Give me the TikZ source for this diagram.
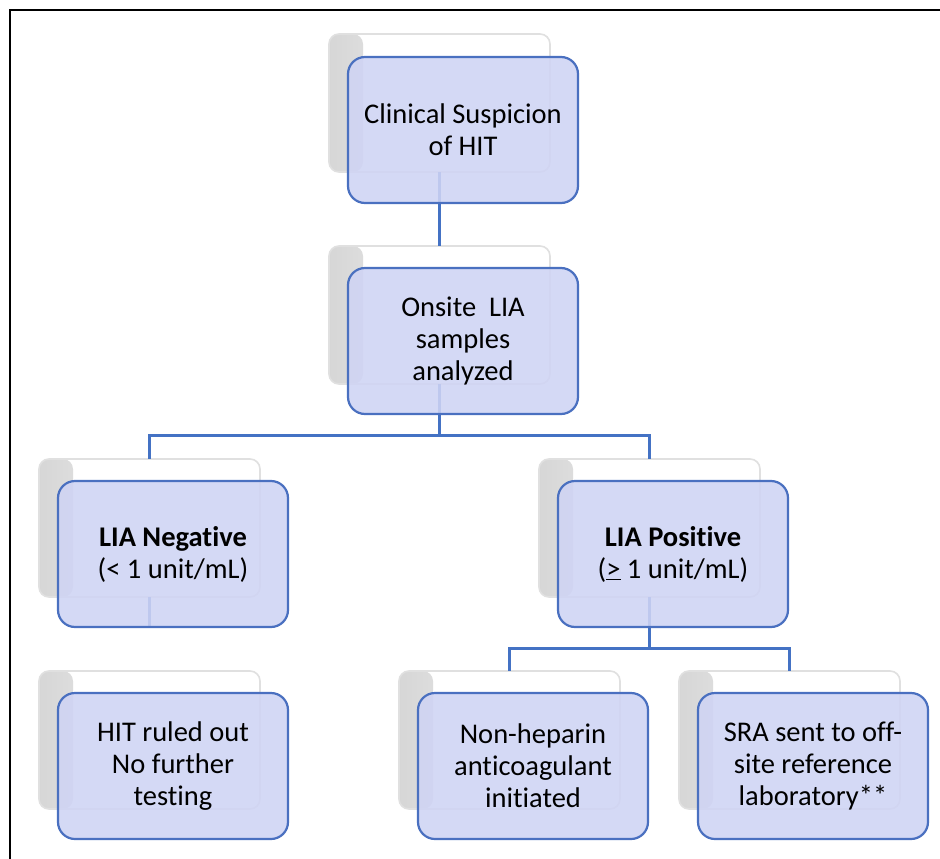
\documentclass[tikz,border=0pt]{standalone}
\usepackage{fontspec}
\setmainfont[Ligatures={NoCommon}]{Carlito}
\usetikzlibrary{calc}
\definecolor{lnblue}{HTML}{4472C4}
\definecolor{frontfill}{HTML}{CFD4F4}
\definecolor{frontdraw}{HTML}{4A70C0}
\tikzset{
  backbox/.style={anchor=north west, minimum width=221pt, minimum height=138pt,
    rounded corners=10pt, draw=black!12, line width=1.6pt, fill=white,
    path picture={\shade[left color=black!16, right color=white]
      (path picture bounding box.south west) rectangle
      ([xshift=34pt]path picture bounding box.north west);},
    inner sep=0pt, outer sep=0pt},
  frontbox/.style={anchor=north west, minimum width=230pt, minimum height=146pt,
    rounded corners=17pt, draw=frontdraw, line width=2.2pt, fill=frontfill,
    fill opacity=0.88, text opacity=1, align=center,
    font=\fontsize{28.5}{32}\selectfont, inner sep=0pt, outer sep=0pt},
  conn/.style={draw=lnblue, line width=3pt},
  frame/.style={draw=black, line width=2.5pt},
}
\begin{document}
\begin{tikzpicture}[x=1pt,y=-1pt]
\useasboundingbox[fill=white] (0,0) rectangle (940,859);
\draw[frame] (10,859) -- (10,10) -- (940,10);
% back cards
\node[backbox] (b1) at (329,34) {};
\node[backbox] (b2) at (329,246) {};
\node[backbox] (b3) at (39,459) {};
\node[backbox] (b4) at (539,459) {};
\node[backbox] (b5) at (39,671) {};
\node[backbox] (b6) at (399,671) {};
\node[backbox] (b7) at (679,671) {};
% connectors
\coordinate (j1) at (440,435);
\coordinate (j2) at (650,648);
\draw[conn] (b1.south) -- (b2.north);
\draw[conn] (b2.south) -- (b2.south |- j1) -| (b3.north);
\draw[conn] (b2.south |- j1) -| (b4.north);
\draw[conn] (b4.south) -- (b4.south |- j2) -| (b6.north);
\draw[conn] (b4.south |- j2) -| (b7.north);
\draw[conn] (b3.south) -- ++(0,29);
% front cards
\node[frontbox] (f1) at (348,57) {Clinical Suspicion\\of HIT};
\node[frontbox] (f2) at (348,268) {Onsite\ \ LIA\\samples\\analyzed};
\node[frontbox] (f3) at (58,481) {\textbf{LIA Negative}\\(< 1 unit/mL)};
\node[frontbox] (f4) at (558,481) {\textbf{LIA Positive}\\(\underline{>} 1 unit/mL)};
\node[frontbox] (f5) at (58,693) {HIT ruled out\\No further\\testing};
\node[frontbox] (f6) at (418,693) {Non-heparin\\anticoagulant\\initiated};
\node[frontbox] (f7) at (698,693) {SRA sent to off-\\site reference\\laboratory**};
\end{tikzpicture}
\end{document}
